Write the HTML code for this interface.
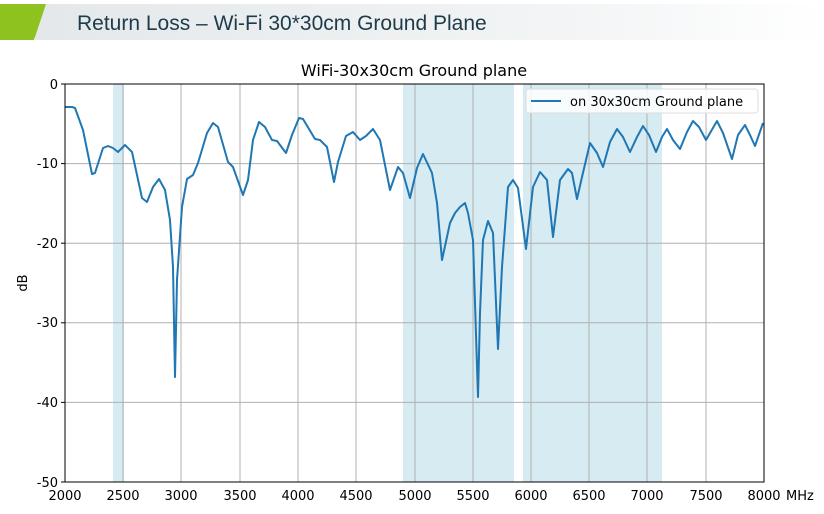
<!DOCTYPE html>
<html><head><meta charset="utf-8"><style>
body{margin:0;width:824px;height:510px;background:#fff;overflow:hidden;font-family:"DejaVu Sans","Liberation Sans",sans-serif}
</style></head><body>
<svg width="824" height="510" xmlns="http://www.w3.org/2000/svg">
<defs><linearGradient id="hg" x1="0" x2="1"><stop offset="0" stop-color="#e4e8ea"/><stop offset="0.7" stop-color="#f3f5f6"/><stop offset="1" stop-color="#fff"/></linearGradient></defs>
<rect x="35" y="4" width="789" height="36" fill="url(#hg)"/>
<polygon points="0,4 46,4 34,40 0,40" fill="#8dc21f"/>
<text x="77" y="30" font-family="Liberation Sans,sans-serif" font-size="21" fill="#1d3b4a">Return Loss – Wi-Fi 30*30cm Ground Plane</text>
<text x="414" y="76" text-anchor="middle" font-size="16" fill="#000">WiFi-30x30cm Ground plane</text>
<g fill="#add8e6" fill-opacity="0.5">
<rect x="113" y="84" width="11" height="398"/>
<rect x="403" y="84" width="111" height="398"/>
<rect x="523" y="84" width="139" height="398"/>
</g>
<g stroke="#b0b0b0" stroke-width="1">
<line x1="123" y1="84" x2="123" y2="482"/><line x1="181" y1="84" x2="181" y2="482"/><line x1="240" y1="84" x2="240" y2="482"/><line x1="298" y1="84" x2="298" y2="482"/><line x1="356" y1="84" x2="356" y2="482"/><line x1="415" y1="84" x2="415" y2="482"/><line x1="473" y1="84" x2="473" y2="482"/><line x1="531" y1="84" x2="531" y2="482"/><line x1="589" y1="84" x2="589" y2="482"/><line x1="647" y1="84" x2="647" y2="482"/><line x1="706" y1="84" x2="706" y2="482"/>
<line x1="65" y1="163.6" x2="764" y2="163.6"/><line x1="65" y1="243.2" x2="764" y2="243.2"/><line x1="65" y1="322.8" x2="764" y2="322.8"/><line x1="65" y1="402.4" x2="764" y2="402.4"/>
</g>
<polyline fill="none" stroke="#1f77b4" stroke-width="2" stroke-linejoin="round" points="65,107 72,107 75,108 83,130 92,174 95,173 103,148 108,146 113,148 118,152 125,145 132,152 142,198 147,202 153,187 159,179 165,190 170,220 173,267 175,377 177,280 182,207 187,179 193,175 198,163 207,133 213,123 218,127 228,162 233,167 243,195 248,180 253,140 259,122 265,127 272,140 277,141 286,153 292,135 299,118 303,119 315,139 320,140 327,147 334,182 338,162 346,136 353,132 360,140 366,136 373,129 380,140 390,190 398,167 403,173 410,198 417,168 423,154 432,173 437,203 442,260 450,223 455,213 460,207 465,203 468,213 473,240 478,397 480,313 483,240 488,221 493,233 498,349 502,267 508,187 513,180 518,188 526,249 533,187 540,172 547,180 553,237 560,180 568,169 572,173 577,199 582,177 590,143 597,153 603,167 610,142 617,129 623,137 630,152 637,137 643,126 649,135 656,152 662,137 667,129 673,140 680,149 687,132 693,121 699,127 706,140 717,121 723,133 732,159 738,135 745,125 750,135 755,146 763,123"/>
<rect x="65" y="84" width="699" height="398" fill="none" stroke="#000" stroke-width="1"/>
<g>
<rect x="526" y="89" width="232" height="24" rx="3" fill="#fff" fill-opacity="0.85" stroke="#ddd"/>
<line x1="531" y1="101" x2="561" y2="101" stroke="#1f77b4" stroke-width="2"/>
<text x="570" y="106" font-size="13">on 30x30cm Ground plane</text>
</g>
<g stroke="#000"><line x1="61" y1="84" x2="65" y2="84"/><line x1="61" y1="163.6" x2="65" y2="163.6"/><line x1="61" y1="243.2" x2="65" y2="243.2"/><line x1="61" y1="322.8" x2="65" y2="322.8"/><line x1="61" y1="402.4" x2="65" y2="402.4"/><line x1="61" y1="482" x2="65" y2="482"/></g>
<g font-size="13" text-anchor="end">
<text x="58" y="89">0</text><text x="58" y="168">-10</text><text x="58" y="248">-20</text><text x="58" y="327">-30</text><text x="58" y="407">-40</text><text x="58" y="487">-50</text>
</g>
<g font-size="13" text-anchor="middle">
<text x="65" y="500">2000</text><text x="123" y="500">2500</text><text x="181" y="500">3000</text><text x="240" y="500">3500</text><text x="298" y="500">4000</text><text x="356" y="500">4500</text><text x="415" y="500">5000</text><text x="473" y="500">5500</text><text x="531" y="500">6000</text><text x="589" y="500">6500</text><text x="647" y="500">7000</text><text x="706" y="500">7500</text><text x="764" y="500">8000</text>
</g>
<text x="786" y="500" font-size="13">MHz</text>
<text x="27" y="283" font-size="13" text-anchor="middle" transform="rotate(-90 27 283)">dB</text>
</svg>
</body></html>
